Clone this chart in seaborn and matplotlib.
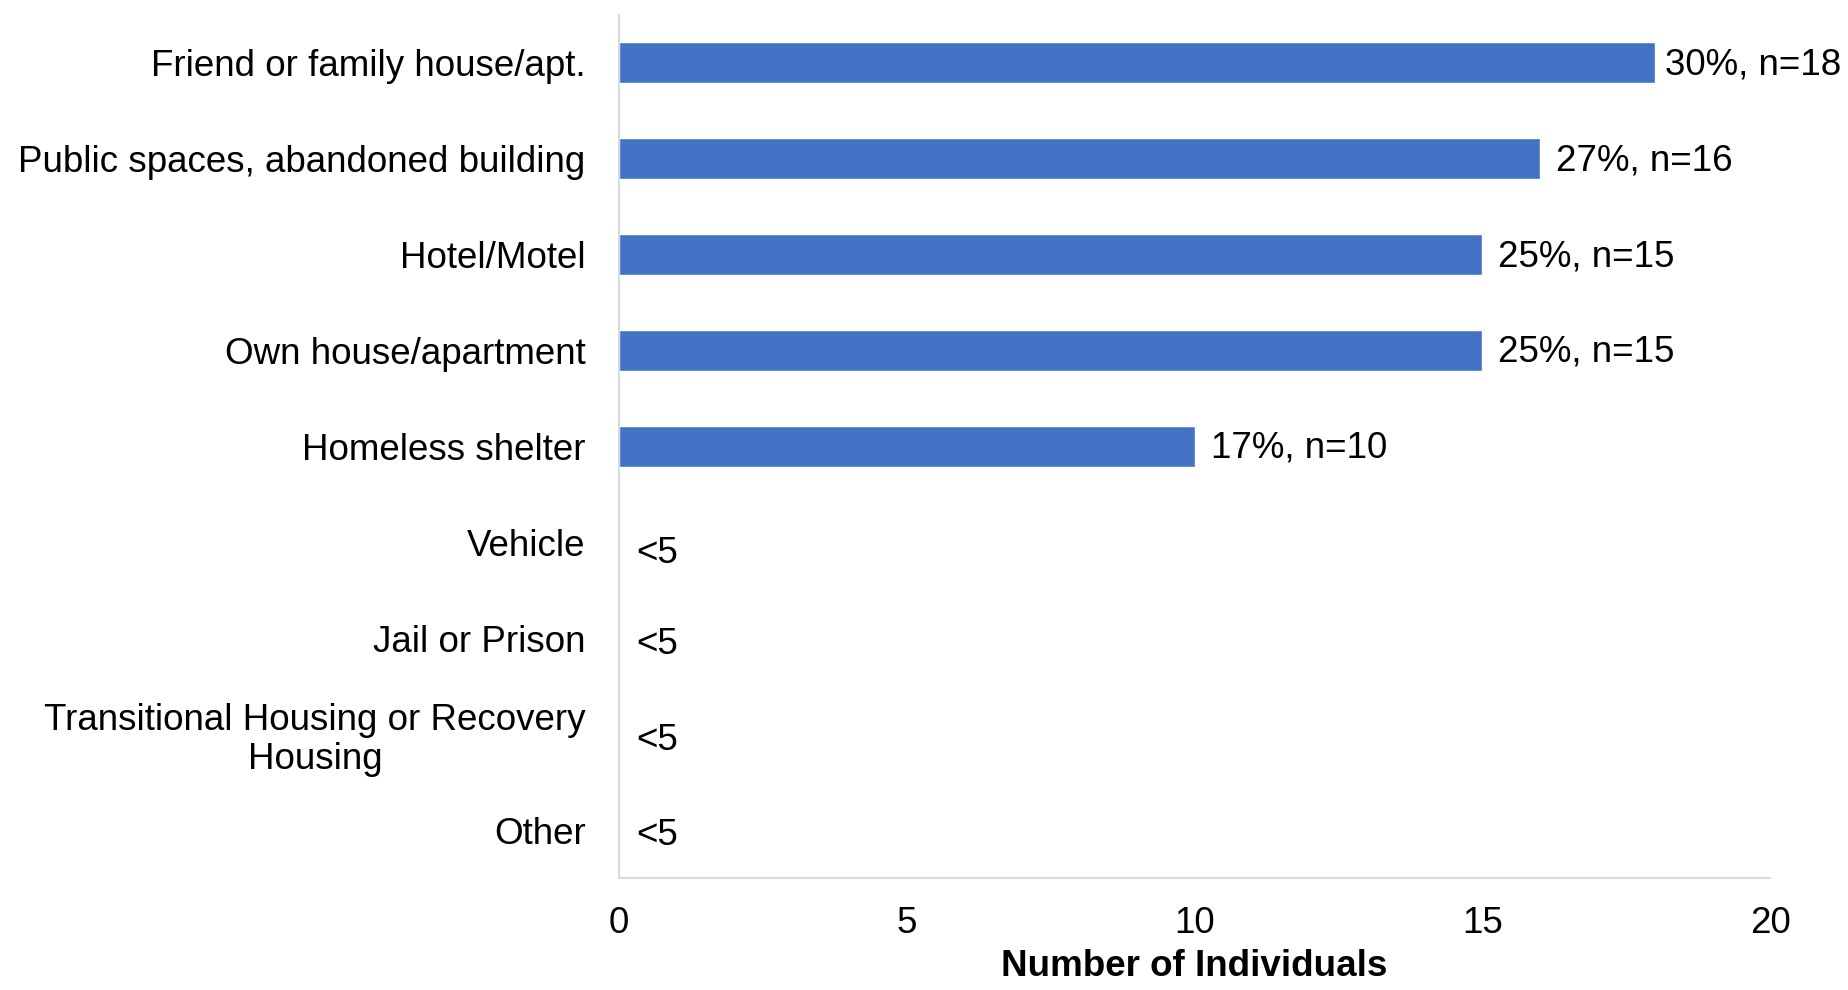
import matplotlib
matplotlib.use("Agg")
import matplotlib.pyplot as plt
import seaborn as sns
import pandas as pd
import numpy as np

categories = [
    "Friend or family house/apt.",
    "Public spaces, abandoned building",
    "Hotel/Motel",
    "Own house/apartment",
    "Homeless shelter",
    "Vehicle",
    "Jail or Prison",
    "Transitional Housing or Recovery\nHousing",
    "Other",
]
counts = [18, 16, 15, 15, 10, 0, 0, 0, 0]
labels = ["30%, n=18", "27%, n=16", "25%, n=15", "25%, n=15", "17%, n=10",
          "<5", "<5", "<5", "<5"]
x_ticks = [0, 5, 10, 15, 20]

sns.set_theme(style="white")
plt.rcParams['font.family'] = ['Liberation Sans', 'DejaVu Sans']

FS = 26.5

df = pd.DataFrame({"category": categories, "count": counts})

fig = plt.figure(figsize=(18.49, 9.90), dpi=100)
ax = fig.add_axes([0.3348, 0.113, 0.6225, 0.872])

sns.barplot(data=df, y="category", x="count", orient="h", color="#4472C4",
            saturation=1, width=0.43, ax=ax)

ax.set_xlim(0, 20)
ax.set_ylim(len(categories) - 0.5, -0.5)
ax.set_xticks(x_ticks)
ax.set_xticklabels([str(t) for t in x_ticks], fontsize=FS, color="black")
ax.tick_params(axis='x', length=0, pad=20, labelcolor="black")
ax.tick_params(axis='y', length=0, pad=24, labelsize=FS, labelcolor="black")
for lab in ax.get_yticklabels():
    lab.set_horizontalalignment('right')
    lab.set_multialignment('center')
    lab.set_linespacing(1.15)

ax.set_ylabel("")
ax.set_xlabel("Number of Individuals", fontsize=FS, fontweight="bold",
              labelpad=6, color="black")

for s in ["top", "right"]:
    ax.spines[s].set_visible(False)
for s in ["left", "bottom"]:
    ax.spines[s].set_color("#d9d9d9")
    ax.spines[s].set_linewidth(1.5)

for i, (c, lab) in enumerate(zip(counts, labels)):
    if c > 0:
        dx, dy = (0.18 if i == 0 else 0.28), 0.02
    else:
        dx, dy = 0.3, (0.12 if i == 5 else 0.06)
    ax.text(c + dx, i + dy, lab, va="center", ha="left", fontsize=FS, color="black")

fig.savefig("out.png", dpi=100)
